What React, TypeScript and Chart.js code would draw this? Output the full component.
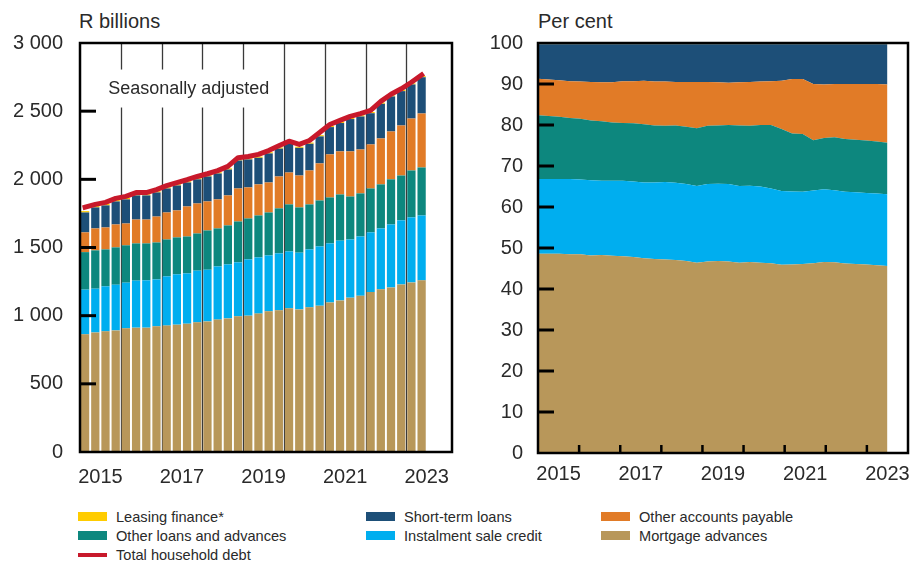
import React, { useEffect, useRef } from 'react';
import { Chart, registerables } from 'chart.js';

Chart.register(...registerables);

const FONT = "'Liberation Sans', Arial, Helvetica, sans-serif";
const TEXT = '#2a2a2a';

// ---- categories ----
const quarters = [
  '2015Q1', '2015Q2', '2015Q3', '2015Q4', '2016Q1', '2016Q2', '2016Q3', '2016Q4',
  '2017Q1', '2017Q2', '2017Q3', '2017Q4', '2018Q1', '2018Q2', '2018Q3', '2018Q4',
  '2019Q1', '2019Q2', '2019Q3', '2019Q4', '2020Q1', '2020Q2', '2020Q3', '2020Q4',
  '2021Q1', '2021Q2', '2021Q3', '2021Q4', '2022Q1', '2022Q2', '2022Q3', '2022Q4',
  '2023Q1', '2023Q2',
];
const yearLabels = [2015, 2017, 2019, 2021, 2023];
const yearBoundaries = [2016, 2017, 2018, 2019, 2020, 2021, 2022, 2023];
const firstYear = 2015;
const leftAxisMax = 2024.12;
const rightAxisMax = 2024;
const dataEnd = 2023.5;

// ---- left panel: R billions ----
const mortgage = [863, 877, 885, 892, 907, 912, 912, 922, 927, 934, 941, 951, 958, 971, 980, 995, 1000, 1015, 1032, 1039, 1054, 1046, 1061, 1073, 1097, 1112, 1132, 1146, 1173, 1193, 1207, 1229, 1244, 1259];
const instalment = [328, 321, 330, 335, 335, 345, 347, 344, 361, 369, 369, 379, 379, 390, 396, 396, 413, 412, 410, 418, 417, 416, 425, 435, 433, 438, 427, 435, 438, 447, 462, 470, 477, 476];
const otherLoans = [275, 281, 271, 274, 274, 273, 271, 271, 271, 271, 271, 273, 288, 279, 286, 300, 300, 308, 315, 330, 345, 332, 330, 337, 337, 339, 315, 316, 322, 323, 331, 329, 344, 352];
const accountsPayable = [145, 161, 161, 168, 160, 175, 175, 190, 198, 198, 220, 220, 213, 213, 220, 242, 228, 228, 220, 234, 234, 234, 249, 272, 316, 316, 331, 322, 323, 337, 351, 367, 381, 396];
const shortTerm = [146, 154, 162, 169, 177, 177, 177, 177, 176, 183, 176, 177, 183, 190, 190, 205, 205, 195, 213, 204, 211, 203, 196, 198, 200, 208, 237, 242, 229, 254, 257, 252, 250, 266];
const leasing = [10, 10, 10, 10, 10, 9, 9, 9, 9, 9, 9, 9, 9, 9, 9, 9, 9, 9, 9, 9, 9, 9, 9, 9, 9, 9, 9, 9, 9, 9, 8, 8, 8, 8];
const totalDebt = [1796, 1816, 1831, 1860, 1875, 1903, 1903, 1925, 1954, 1976, 1997, 2021, 2041, 2064, 2095, 2159, 2167, 2183, 2211, 2246, 2280, 2256, 2285, 2344, 2402, 2432, 2462, 2482, 2506, 2572, 2624, 2664, 2712, 2766];
const leftYTicks = [0, 500, 1000, 1500, 2000, 2500, 3000];

// ---- right panel: per cent ----
const pctMortgage = [48.6, 48.6, 48.6, 48.5, 48.5, 48.2, 48.3, 48.1, 48.0, 47.8, 47.5, 47.3, 47.2, 47.1, 46.8, 46.4, 46.7, 46.8, 46.7, 46.4, 46.6, 46.4, 46.3, 45.9, 46.0, 46.1, 46.3, 46.6, 46.5, 46.2, 46.1, 46.0, 45.8, 45.6];
const pctInstalment = [18.2, 18.2, 18.2, 18.3, 18.2, 18.3, 18.1, 18.3, 18.4, 18.4, 18.5, 18.7, 18.9, 18.8, 18.8, 18.7, 18.9, 18.9, 18.9, 18.7, 18.6, 18.6, 18.2, 18.0, 17.8, 17.6, 17.7, 17.7, 17.6, 17.5, 17.5, 17.4, 17.5, 17.5];
const pctOtherLoans = [15.6, 15.4, 15.2, 14.9, 14.8, 14.6, 14.5, 14.2, 14.1, 14.2, 14.2, 13.9, 13.7, 14.0, 14.0, 14.1, 14.2, 14.2, 14.4, 14.8, 14.6, 15.0, 15.5, 15.1, 14.1, 14.1, 12.3, 12.5, 12.9, 12.9, 12.8, 12.8, 12.7, 12.6];
const pctAccounts = [8.9, 8.9, 8.9, 9.0, 9.1, 9.4, 9.5, 9.8, 10.2, 10.3, 10.6, 10.7, 10.8, 10.6, 10.9, 11.3, 10.7, 10.5, 10.3, 10.5, 10.7, 10.6, 10.7, 11.8, 13.3, 13.4, 13.7, 13.1, 13.0, 13.4, 13.6, 13.8, 14.0, 14.2];
const pctShortTerm = [8.4, 8.6, 8.8, 9.0, 9.1, 9.2, 9.3, 9.3, 9.0, 9.0, 8.9, 9.1, 9.1, 9.2, 9.2, 9.2, 9.2, 9.3, 9.4, 9.3, 9.2, 9.1, 9.0, 8.9, 8.5, 8.5, 9.7, 9.8, 9.7, 9.7, 9.7, 9.7, 9.7, 9.8];
const pctLeasing = [0.3, 0.3, 0.3, 0.3, 0.3, 0.3, 0.3, 0.3, 0.3, 0.3, 0.3, 0.3, 0.3, 0.3, 0.3, 0.3, 0.3, 0.3, 0.3, 0.3, 0.3, 0.3, 0.3, 0.3, 0.3, 0.3, 0.3, 0.3, 0.3, 0.3, 0.3, 0.3, 0.3, 0.3];
const rightYTicks = [0, 10, 20, 30, 40, 50, 60, 70, 80, 90, 100];

const COLORS = {
  leasing: '#FFCC00',
  shortTerm: '#1D4F78',
  accounts: '#E17B27',
  otherLoans: '#0D877E',
  instalment: '#00AEEF',
  mortgage: '#B8975A',
  total: '#C8192B',
};

const legendItems = [
  { label: 'Leasing finance*', color: COLORS.leasing, line: false },
  { label: 'Short-term loans', color: COLORS.shortTerm, line: false },
  { label: 'Other accounts payable', color: COLORS.accounts, line: false },
  { label: 'Other loans and advances', color: COLORS.otherLoans, line: false },
  { label: 'Instalment sale credit', color: COLORS.instalment, line: false },
  { label: 'Mortgage advances', color: COLORS.mortgage, line: false },
  { label: 'Total household debt', color: COLORS.total, line: true },
];

const note = 'Seasonally adjusted';
const noteAt = { year: 2015.69, value: 2666 };

function fmtThousands(v: number) {
  return String(v).replace(/\B(?=(\d{3})+(?!\d))/g, ' ');
}

// centre of a quarter, in years, from its label
function quarterMid(label: string) {
  const y = Number(label.slice(0, 4));
  const q = Number(label.slice(5));
  return y + (q - 0.5) / 4;
}

function drawFrame(chart: any, yTickValues: number[], xTickYears: number[] | null) {
  const { ctx, chartArea } = chart;
  const { left, right, top, bottom } = chartArea;
  const ys = chart.scales.y;
  ctx.save();
  ctx.strokeStyle = '#000';
  ctx.lineWidth = 3;
  yTickValues.forEach((v) => {
    const py = ys.getPixelForValue(v);
    ctx.beginPath();
    ctx.moveTo(left, py);
    ctx.lineTo(left + 16, py);
    ctx.stroke();
  });
  if (xTickYears) {
    const xs = chart.scales.x;
    ctx.lineWidth = 2.5;
    xTickYears.forEach((y) => {
      const px = xs.getPixelForValue(y);
      ctx.beginPath();
      ctx.moveTo(px, bottom);
      ctx.lineTo(px, bottom - 8);
      ctx.stroke();
    });
  }
  ctx.lineWidth = 2.5;
  ctx.strokeRect(left, top, right - left, bottom - top);
  ctx.restore();
}

const fixX = (h: number) => (s: any) => {
  s.height = h;
  s.paddingLeft = 0;
  s.paddingRight = 0;
};
const fixY = (w: number) => (s: any) => {
  s.width = w;
  s.paddingTop = 0;
  s.paddingBottom = 0;
};

const yearAxis = (max: number, height: number, pad: number) => ({
  type: 'linear',
  position: 'bottom',
  min: firstYear,
  max,
  offset: false,
  stacked: true,
  grid: { display: false, drawTicks: false },
  border: { display: false },
  afterBuildTicks: (ax: any) => {
    ax.ticks = yearLabels.map((y) => ({ value: y + 0.5 }));
  },
  afterFit: fixX(height),
  ticks: {
    padding: pad,
    maxRotation: 0,
    autoSkip: false,
    color: TEXT,
    font: { family: FONT, size: 20 },
    callback: (v: any) => String(Math.floor(Number(v))),
  },
});

function LeftChart() {
  const ref = useRef<HTMLCanvasElement | null>(null);
  useEffect(() => {
    if (!ref.current) return;
    const xs = quarters.map(quarterMid);
    const barDs = (label: string, data: number[], color: string) => ({
      type: 'bar' as const,
      label,
      data: data.map((v, i) => ({ x: xs[i], y: v })),
      backgroundColor: color,
      borderWidth: 0,
      stack: 'debt',
      order: 1,
      barPercentage: 0.81,
      categoryPercentage: 1.0,
    });
    const decor = {
      id: 'leftDecor',
      beforeDatasetsDraw(chart: any) {
        const { ctx, chartArea } = chart;
        const sx = chart.scales.x;
        ctx.save();
        ctx.strokeStyle = '#3a3a3a';
        ctx.lineWidth = 1.3;
        yearBoundaries.forEach((y) => {
          const px = Math.round(sx.getPixelForValue(y)) + 0.5;
          ctx.beginPath();
          ctx.moveTo(px, chartArea.top);
          ctx.lineTo(px, chartArea.bottom);
          ctx.stroke();
        });
        ctx.restore();
      },
      afterDatasetsDraw(chart: any) {
        const { ctx } = chart;
        const x = chart.scales.x.getPixelForValue(noteAt.year);
        const y = chart.scales.y.getPixelForValue(noteAt.value);
        ctx.save();
        ctx.font = `18px ${FONT}`;
        const w = ctx.measureText(note).width;
        ctx.fillStyle = '#ffffff';
        ctx.fillRect(x - 6, y - 19, w + 12, 38);
        ctx.fillStyle = TEXT;
        ctx.textBaseline = 'middle';
        ctx.textAlign = 'left';
        ctx.fillText(note, x, y);
        ctx.restore();
      },
      afterDraw(chart: any) {
        drawFrame(chart, leftYTicks.slice(1, -1), null);
      },
    };
    const chart = new Chart(ref.current, {
      data: {
        datasets: [
          {
            type: 'line' as const,
            label: 'Total household debt',
            data: totalDebt.map((v, i) => ({ x: xs[i], y: v })),
            borderColor: COLORS.total,
            borderWidth: 5,
            pointRadius: 0,
            tension: 0,
            fill: false,
            stack: 'total',
            order: 0,
            borderCapStyle: 'square',
            borderJoinStyle: 'round',
          } as any,
          barDs('Mortgage advances', mortgage, COLORS.mortgage),
          barDs('Instalment sale credit', instalment, COLORS.instalment),
          barDs('Other loans and advances', otherLoans, COLORS.otherLoans),
          barDs('Other accounts payable', accountsPayable, COLORS.accounts),
          barDs('Short-term loans', shortTerm, COLORS.shortTerm),
          barDs('Leasing finance*', leasing, COLORS.leasing),
        ],
      },
      options: {
        responsive: false,
        animation: false,
        devicePixelRatio: 1,
        layout: { padding: { top: 43, right: 8, left: 0, bottom: 0 } },
        plugins: { legend: { display: false }, tooltip: { enabled: false } },
        scales: {
          x: yearAxis(leftAxisMax, 48, 13),
          y: {
            stacked: true,
            min: 0,
            max: 3000,
            grid: { display: false, drawTicks: false },
            border: { display: false },
            afterBuildTicks: (ax: any) => {
              ax.ticks = leftYTicks.map((v) => ({ value: v }));
            },
            afterFit: fixY(80),
            ticks: {
              padding: 17,
              color: TEXT,
              font: { family: FONT, size: 20 },
              callback: (v: any) => fmtThousands(Number(v)),
            },
          },
        },
      } as any,
      plugins: [decor],
    });
    return () => chart.destroy();
  }, []);
  return (
    <canvas
      ref={ref}
      width={460}
      height={500}
      style={{ position: 'absolute', left: 0, top: 0, width: 460, height: 500 }}
    />
  );
}

function RightChart() {
  const ref = useRef<HTMLCanvasElement | null>(null);
  useEffect(() => {
    if (!ref.current) return;
    const n = pctMortgage.length;
    const xAt = (i: number) => firstYear + (i * (dataEnd - firstYear)) / (n - 1);
    const areaDs = (label: string, data: number[], color: string, fill: any) => ({
      type: 'line' as const,
      label,
      data: data.map((v, i) => ({ x: xAt(i), y: v })),
      backgroundColor: color,
      borderColor: color,
      borderWidth: 0,
      pointRadius: 0,
      tension: 0,
      fill,
    });
    const decor = {
      id: 'rightDecor',
      afterDraw(chart: any) {
        drawFrame(chart, rightYTicks.slice(1, -1), yearBoundaries);
      },
    };
    const chart = new Chart(ref.current, {
      type: 'line',
      data: {
        datasets: [
          areaDs('Mortgage advances', pctMortgage, COLORS.mortgage, 'origin'),
          areaDs('Instalment sale credit', pctInstalment, COLORS.instalment, '-1'),
          areaDs('Other loans and advances', pctOtherLoans, COLORS.otherLoans, '-1'),
          areaDs('Other accounts payable', pctAccounts, COLORS.accounts, '-1'),
          areaDs('Short-term loans', pctShortTerm, COLORS.shortTerm, '-1'),
          areaDs('Leasing finance*', pctLeasing, COLORS.leasing, '-1'),
        ],
      },
      options: {
        responsive: false,
        animation: false,
        devicePixelRatio: 1,
        layout: { padding: { top: 43, right: 7, left: 0, bottom: 0 } },
        plugins: { legend: { display: false }, tooltip: { enabled: false } },
        scales: {
          x: yearAxis(rightAxisMax, 47, 9),
          y: {
            stacked: true,
            min: 0,
            max: 100,
            grid: { display: false, drawTicks: false },
            border: { display: false },
            afterBuildTicks: (ax: any) => {
              ax.ticks = rightYTicks.map((v) => ({ value: v }));
            },
            afterFit: fixY(78),
            ticks: {
              padding: 15,
              color: TEXT,
              font: { family: FONT, size: 20 },
            },
          },
        },
      } as any,
      plugins: [decor],
    });
    return () => chart.destroy();
  }, []);
  return (
    <canvas
      ref={ref}
      width={455}
      height={500}
      style={{ position: 'absolute', left: 460, top: 0, width: 455, height: 500 }}
    />
  );
}

const legendCols = [78, 366, 601];
const legendRows = [516.5, 535.8, 555];

export default function App() {
  return (
    <div
      style={{
        position: 'absolute',
        left: 0,
        top: 0,
        width: 915,
        height: 563,
        background: '#fff',
        fontFamily: FONT,
        color: TEXT,
        overflow: 'hidden',
      }}
    >
      <div style={{ position: 'absolute', left: 79, top: 9, fontSize: 20, lineHeight: '24px' }}>R billions</div>
      <div style={{ position: 'absolute', left: 538, top: 9, fontSize: 20, lineHeight: '24px' }}>Per cent</div>
      <LeftChart />
      <RightChart />
      {legendItems.map((it, k) => {
        const col = k % 3;
        const row = Math.floor(k / 3);
        const x = legendCols[col];
        const cy = legendRows[row];
        return (
          <React.Fragment key={it.label}>
            <div
              style={{
                position: 'absolute',
                left: x,
                top: it.line ? cy - 2 : cy - 5,
                width: 29,
                height: it.line ? 4 : 9.5,
                background: it.color,
              }}
            />
            <div
              style={{
                position: 'absolute',
                left: x + 38,
                top: cy - 9,
                fontSize: 14.6,
                lineHeight: '18px',
                whiteSpace: 'nowrap',
              }}
            >
              {it.label}
            </div>
          </React.Fragment>
        );
      })}
    </div>
  );
}
